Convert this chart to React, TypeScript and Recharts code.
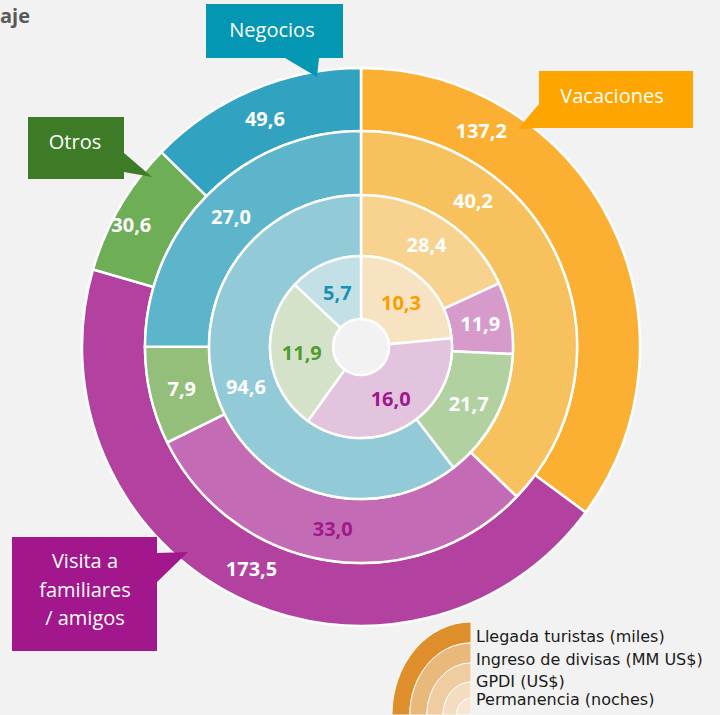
import React from 'react';
import { PieChart, Pie, Cell } from 'recharts';

// categorias, en el orden del grafico (sentido horario desde arriba)
const categories = ['Vacaciones', 'Visita a familiares / amigos', 'Otros', 'Negocios'];
const llegadaTuristas = [137.2, 173.5, 30.6, 49.6]; // miles
const ingresoDivisas = [40.2, 33.0, 7.9, 27.0]; // MM US$
const gpdi = [28.4, 11.9, 21.7, 94.6]; // US$
const permanencia = [10.3, 16.0, 11.9, 5.7]; // noches

const legendLabels = ['Llegada turistas (miles)', 'Ingreso de divisas (MM US$)', 'GPDI (US$)', 'Permanencia (noches)'];

const CX = 361;
const CY = 347;

const rings = [
  {
    key: 'llegada', values: llegadaTuristas, inner: 216, outer: 279,
    colors: ['#FBAF33', '#B2419F', '#6DAE56', '#31A2C0'],
    labelColors: ['#fff', '#fff', '#fff', '#fff'],
    labelFrac: [0.23, 0.5, 0.42, 0.5],
    labelRad: [0.5, 0.5, 0.7, 0.5],
  },
  {
    key: 'divisas', values: ingresoDivisas, inner: 152, outer: 216,
    colors: ['#F7C15E', '#C36CB5', '#93BF7A', '#5DB5CC'],
    labelColors: ['#fff', '#A0188C', '#fff', '#fff'],
    labelFrac: [0.28, 0.5, 0.5, 0.5],
    labelRad: [0.5, 0.5, 0.5, 0.5],
  },
  {
    key: 'gpdi', values: gpdi, inner: 91, outer: 152,
    colors: ['#F8D28F', '#D69ACB', '#B1D2A0', '#92CAD8'],
    labelColors: ['#fff', '#fff', '#fff', '#fff'],
    labelFrac: [0.5, 0.5, 0.5, 0.5],
    labelRad: [0.5, 0.5, 0.5, 0.5],
  },
  {
    key: 'permanencia', values: permanencia, inner: 28, outer: 91,
    colors: ['#F7E3C2', '#E3C4DE', '#D4E2CA', '#C3E0E7'],
    labelColors: ['#F7A000', '#A0188C', '#4E9D2D', '#1A90B3'],
    labelFrac: [0.5, 0.5, 0.5, 0.5],
    labelRad: [0.5, 0.5, 0.5, 0.5],
  },
];

const legendBands = [
  { inner: 72, outer: 93, color: '#DE8E2B' },
  { inner: 52, outer: 72, color: '#E9B97C' },
  { inner: 33, outer: 52, color: '#EFCDA1' },
  { inner: 17, outer: 33, color: '#F3DCBF' },
  { inner: 0, outer: 17, color: '#F6E6D2' },
];

const RAD = Math.PI / 180;
const fmt = (v: number) => v.toFixed(1).replace('.', ',');

const makeLabel = (ring: typeof rings[number]) => (props: any) => {
  const { index, value, innerRadius, outerRadius, startAngle, endAngle, midAngle } = props;
  const frac = ring.labelFrac[index];
  const ang = startAngle != null && endAngle != null ? startAngle + (endAngle - startAngle) * frac : midAngle;
  const r = innerRadius + (outerRadius - innerRadius) * ring.labelRad[index];
  const x = CX + r * Math.cos(-ang * RAD);
  const y = CY + r * Math.sin(-ang * RAD);
  return (
    <text x={x} y={y} fill={ring.labelColors[index]} textAnchor="middle" dominantBaseline="central"
      style={{ fontFamily: '"Open Sans", sans-serif', fontWeight: 700, fontSize: 20 }}>
      {fmt(value)}
    </text>
  );
};

const calloutText = { fontFamily: '"Open Sans", sans-serif', fontSize: 20, fill: '#fff' };

export default function App() {
  return (
    <div style={{ position: 'absolute', left: 0, top: 0, width: 720, height: 715, background: '#F2F2F2', overflow: 'hidden' }}>
      <PieChart width={720} height={715} margin={{ top: 0, right: 0, bottom: 0, left: 0 }}>
        {rings.map((ring) => (
          <Pie
            key={ring.key}
            data={categories.map((name, i) => ({ name, value: ring.values[i] }))}
            dataKey="value"
            nameKey="name"
            cx={CX}
            cy={CY}
            innerRadius={ring.inner}
            outerRadius={ring.outer}
            startAngle={90}
            endAngle={-270}
            stroke="#fff"
            strokeWidth={2.5}
            label={makeLabel(ring)}
            labelLine={false}
            isAnimationActive={false}
          >
            {categories.map((c, i) => <Cell key={c} fill={ring.colors[i]} />)}
          </Pie>
        ))}
      </PieChart>

      {/* leyenda: cuarto de anillos, algo comprimido en horizontal */}
      <div style={{ position: 'absolute', left: 371, top: 615, width: 100, height: 100, transform: 'scaleX(0.85)', transformOrigin: '100% 100%' }}>
        <PieChart width={100} height={100} margin={{ top: 0, right: 0, bottom: 0, left: 0 }}>
          {legendBands.map((b, i) => (
            <Pie
              key={'lg' + i}
              data={[{ name: 'lg', value: 1 }]}
              dataKey="value"
              cx={100}
              cy={100}
              innerRadius={b.inner}
              outerRadius={b.outer}
              startAngle={90}
              endAngle={180}
              stroke="#fff"
              strokeWidth={1}
              isAnimationActive={false}
            >
              <Cell fill={b.color} />
            </Pie>
          ))}
        </PieChart>
      </div>

      <svg width={720} height={715} style={{ position: 'absolute', left: 0, top: 0, pointerEvents: 'none' }}>
        <text x={0} y={23} style={{ fontFamily: '"Open Sans", sans-serif', fontWeight: 700, fontSize: 20, fill: '#595959' }}>aje</text>

        {/* Negocios */}
        <polygon points="206,4 343,4 343,58 319,58 317,77 285,58 206,58" fill="#0497B4" />
        <text x={272} y={37} textAnchor="middle" style={calloutText}>Negocios</text>

        {/* Vacaciones */}
        <polygon points="539,71 693,71 693,128 539,128 518,129 539,104" fill="#FFA500" />
        <text x={612} y={103} textAnchor="middle" style={calloutText}>Vacaciones</text>

        {/* Otros */}
        <polygon points="28,117 124,117 124,153 152,177 124,172 124,179 28,179" fill="#3E7B27" />
        <text x={75} y={149} textAnchor="middle" style={calloutText}>Otros</text>

        {/* Visita a familiares / amigos */}
        <polygon points="12,537 157,537 157,553 188,552 157,582 157,651 12,651" fill="#A2178C" />
        <text x={85} y={568} textAnchor="middle" style={calloutText}>Visita a</text>
        <text x={85} y={597} textAnchor="middle" style={calloutText}>familiares</text>
        <text x={85} y={625} textAnchor="middle" style={calloutText}>/ amigos</text>

        {legendLabels.map((l, i) => (
          <text key={l} x={476} y={[642, 665, 687, 705][i]}
            style={{ fontFamily: '"DejaVu Sans", Verdana, sans-serif', fontSize: 16, fill: '#1a1a1a' }}>
            {l}
          </text>
        ))}
      </svg>
    </div>
  );
}
